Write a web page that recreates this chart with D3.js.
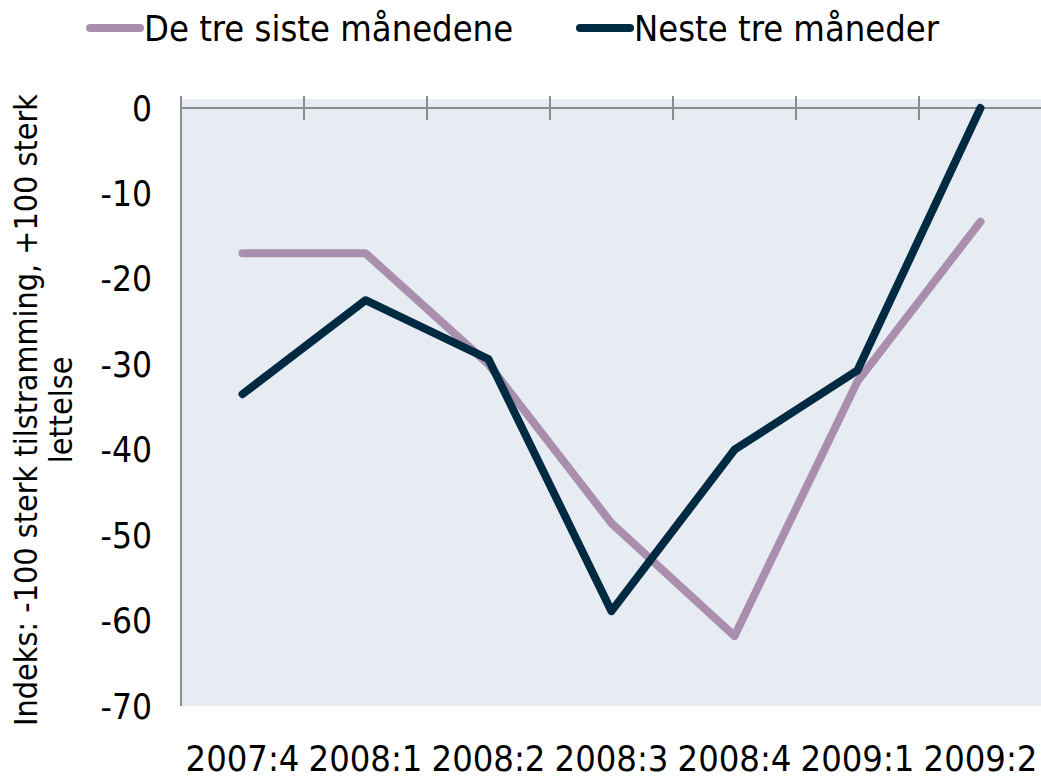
<!doctype html>
<html>
<head>
<meta charset="utf-8">
<title>Kredittpraksis</title>
<style>
  body { margin: 0; background: #fff; }
  text { font-family: "DejaVu Sans Condensed", "DejaVu Sans", sans-serif; fill: #000; }
</style>
</head>
<body>
<div id="here"></div>
<script src="https://d3js.org/d3.v7.min.js"></script>
<script>
var kvartaler = ["2007:4", "2008:1", "2008:2", "2008:3", "2008:4", "2009:1", "2009:2"];
var sisteTre = [-17, -17, -30, -48.6, -61.8, -32, -13.3];
var nesteTre = [-33.5, -22.5, -29.4, -58.9, -40, -30.7, 0];
var yTicks = [0, -10, -20, -30, -40, -50, -60, -70];
var serier = [
  { navn: "De tre siste månedene", verdier: sisteTre, farge: "#a98fad" },
  { navn: "Neste tre måneder", verdier: nesteTre, farge: "#002a42" }
];

var w = 1041, h = 781;
var left = 181, right = 1042, top0 = 99, bottom = 706;

var svg = d3.select("#here").append("svg")
  .attr("width", w)
  .attr("height", h);

var x = d3.scaleBand().domain(kvartaler).range([left, right]);
var y = d3.scaleLinear().domain([-70, 0]).range([bottom, 108]);

// plot bakgrunn
svg.append("rect")
  .attr("x", left).attr("y", top0)
  .attr("width", right - left).attr("height", bottom - top0)
  .attr("fill", "#e7ebf2");

// venstre akse
svg.append("line")
  .attr("x1", left).attr("x2", left)
  .attr("y1", top0).attr("y2", bottom)
  .attr("stroke", "#8c8c8c").attr("stroke-width", 2);

// y-tall
svg.append("g").selectAll("text")
  .data(yTicks)
  .enter().append("text")
  .attr("x", 152)
  .attr("y", function(d) { return y(d); })
  .attr("dy", "0.36em")
  .attr("text-anchor", "end")
  .attr("font-size", 35)
  .text(function(d) { return d; });

// x-akse i null, streker mellom kategoriene
svg.append("line")
  .attr("x1", left).attr("x2", right)
  .attr("y1", y(0)).attr("y2", y(0))
  .attr("stroke", "#8c8c8c").attr("stroke-width", 2);

svg.append("g").selectAll("line")
  .data(kvartaler)
  .enter().append("line")
  .attr("x1", function(d) { return x(d); })
  .attr("x2", function(d) { return x(d); })
  .attr("y1", y(0) - 12).attr("y2", y(0) + 12)
  .attr("stroke", "#8c8c8c").attr("stroke-width", 2);

svg.append("g").selectAll("text")
  .data(kvartaler)
  .enter().append("text")
  .attr("x", function(d) { return x(d) + x.bandwidth() / 2; })
  .attr("y", 771)
  .attr("text-anchor", "middle")
  .attr("font-size", 36)
  .text(function(d) { return d; });

// linjer
var linje = d3.line()
  .x(function(d, i) { return x(kvartaler[i]) + x.bandwidth() / 2; })
  .y(function(d) { return y(d); });

svg.append("g").selectAll("path")
  .data(serier)
  .enter().append("path")
  .attr("d", function(s) { return linje(s.verdier); })
  .attr("fill", "none")
  .attr("stroke", function(s) { return s.farge; })
  .attr("stroke-width", 8)
  .attr("stroke-linejoin", "round")
  .attr("stroke-linecap", "round");

// y-tittel
var tittel = svg.append("text")
  .attr("transform", "translate(37,410) rotate(-90)")
  .attr("text-anchor", "middle")
  .attr("font-size", 32);
tittel.append("tspan").attr("x", 0).attr("dy", 0).text("Indeks: -100 sterk tilstramming, +100 sterk");
tittel.append("tspan").attr("x", 0).attr("dy", 35).text("lettelse");

// legend
var legPos = [88, 578];
var leg = svg.append("g").selectAll("g")
  .data(serier)
  .enter().append("g")
  .attr("transform", function(s, i) { return "translate(" + legPos[i] + ",28)"; });

leg.append("line")
  .attr("x1", 2).attr("x2", 52)
  .attr("y1", 0).attr("y2", 0)
  .attr("stroke", function(s) { return s.farge; })
  .attr("stroke-width", 8)
  .attr("stroke-linecap", "round");

leg.append("text")
  .attr("x", 56)
  .attr("y", 0)
  .attr("dy", "0.36em")
  .attr("font-size", 36)
  .text(function(s) { return s.navn; });
</script>
</body>
</html>
